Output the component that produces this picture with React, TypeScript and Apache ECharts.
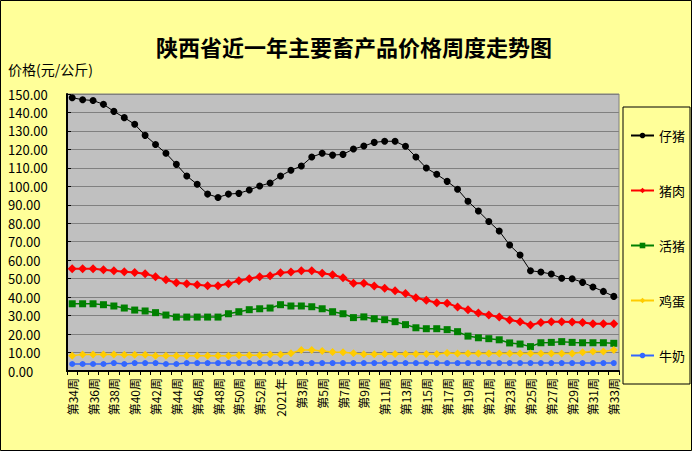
import React, { useEffect, useRef } from "react";
import * as echarts from "echarts";

const weeks: string[] = [
  "第34周", "第35周", "第36周", "第37周", "第38周", "第39周", "第40周", "第41周", "第42周", "第43周",
  "第44周", "第45周", "第46周", "第47周", "第48周", "第49周", "第50周", "第51周", "第52周", "第53周",
  "2021年", "第2周", "第3周", "第4周", "第5周", "第6周", "第7周", "第8周", "第9周", "第10周",
  "第11周", "第12周", "第13周", "第14周", "第15周", "第16周", "第17周", "第18周", "第19周", "第20周",
  "第21周", "第22周", "第23周", "第24周", "第25周", "第26周", "第27周", "第28周", "第29周", "第30周",
  "第31周", "第32周", "第33周",
];

const piglet: number[] = [
  148.0, 146.9, 146.5, 144.4, 140.6, 137.2, 133.6, 127.6, 122.7, 117.9,
  111.9, 105.6, 101.1, 95.8, 94.0, 95.8, 96.2, 98.0, 100.2, 101.8,
  105.6, 108.7, 111.0, 115.9, 117.9, 116.9, 117.3, 120.2, 121.8, 123.8,
  124.4, 124.4, 121.7, 115.9, 109.9, 106.5, 102.7, 98.4, 91.9, 86.6,
  81.0, 75.8, 68.2, 62.8, 54.3, 53.6, 52.5, 50.2, 50.0, 48.0,
  45.5, 43.1, 40.4,
];

const pork: number[] = [
  55.4, 55.4, 55.4, 54.8, 54.3, 53.8, 53.4, 52.7, 51.1, 49.4,
  47.8, 47.3, 46.7, 46.2, 46.2, 47.3, 48.9, 50.0, 51.1, 51.6,
  53.2, 53.6, 54.3, 54.3, 52.9, 52.1, 50.5, 47.5, 47.5, 46.0,
  44.8, 43.5, 41.9, 39.7, 38.3, 37.0, 36.7, 34.7, 33.2, 31.4,
  30.3, 29.2, 27.6, 26.7, 24.9, 26.2, 26.7, 26.7, 26.5, 26.2,
  25.6, 25.6, 25.6,
];

const liveHog: number[] = [
  36.4, 36.4, 36.4, 35.9, 35.2, 34.1, 33.0, 32.5, 31.6, 30.3,
  29.2, 29.2, 29.2, 29.2, 29.2, 31.0, 32.1, 33.2, 33.7, 34.1,
  35.9, 35.2, 35.2, 34.8, 33.7, 32.1, 31.0, 28.9, 29.3, 28.3,
  27.8, 26.7, 25.1, 23.4, 22.9, 22.9, 22.4, 21.3, 18.9, 18.0,
  17.5, 16.9, 15.2, 14.6, 13.2, 15.3, 15.5, 15.9, 15.5, 15.3,
  15.3, 15.3, 15.0,
];

const eggs: number[] = [
  8.3, 9.0, 9.0, 9.0, 9.0, 8.8, 8.8, 8.8, 8.3, 8.3,
  8.3, 8.3, 8.3, 8.3, 8.3, 8.3, 8.5, 8.5, 8.5, 9.0,
  9.0, 9.6, 11.4, 11.4, 10.8, 10.3, 10.1, 9.6, 9.1, 9.1,
  9.2, 9.2, 9.2, 9.2, 9.2, 9.2, 9.7, 9.5, 9.5, 9.5,
  9.5, 9.5, 9.5, 9.5, 9.5, 9.5, 9.5, 9.5, 9.5, 10.1,
  10.5, 10.6, 11.4,
];

const milk: number[] = [
  3.8, 3.8, 3.8, 3.8, 4.3, 3.8, 4.3, 4.3, 4.3, 3.8,
  3.8, 4.3, 4.3, 4.3, 4.3, 4.3, 4.3, 4.3, 4.3, 4.3,
  4.3, 4.3, 4.3, 4.3, 4.3, 4.3, 4.3, 4.3, 4.3, 4.3,
  4.3, 4.3, 4.3, 4.3, 4.3, 4.3, 4.3, 4.3, 4.3, 4.3,
  4.3, 4.3, 4.3, 4.3, 4.3, 4.3, 4.3, 4.3, 4.3, 4.3,
  4.3, 4.3, 4.3,
];

const seriesNames = ["仔猪", "猪肉", "活猪", "鸡蛋", "牛奶"];

const FONT = "'Noto Sans CJK SC', sans-serif";

export default function App() {
  const ref = useRef<HTMLDivElement>(null);

  useEffect(() => {
    document.body.style.margin = "0";
    if (!ref.current) return;
    const chart = echarts.init(ref.current, null, { renderer: "svg" });

    const mk = (
      name: string,
      data: number[],
      color: string,
      symbol: string,
      symbolSize: number,
      width: number
    ) => ({
      name,
      type: "line",
      data,
      symbol,
      symbolSize,
      showAllSymbol: true,
      lineStyle: { color, width },
      itemStyle: { color, borderWidth: 0 },
      emphasis: { disabled: true },
    });

    chart.setOption({
      animation: false,
      backgroundColor: "#FFFF99",
      title: {
        text: "陕西省近一年主要畜产品价格周度走势图",
        left: 151,
        top: 30,
        textStyle: { fontFamily: FONT, fontSize: 22, fontWeight: "bold", color: "#000" },
      },
      graphic: [
        {
          type: "rect",
          shape: { x: 0.5, y: 0.5, width: 691, height: 450 },
          style: { fill: "none", stroke: "#000", lineWidth: 1 },
          silent: true,
        },
        {
          type: "text",
          left: 8,
          top: 62,
          style: { text: "价格(元/公斤)", fontFamily: FONT, fontSize: 14, fill: "#000" },
        },
      ],
      legend: {
        orient: "vertical",
        left: 623,
        top: 107,
        padding: [22, 5, 22, 7],
        itemGap: 42,
        itemWidth: 23,
        itemHeight: 7,
        backgroundColor: "#FFFF99",
        borderColor: "#000",
        borderWidth: 1,
        borderRadius: 0,
        textStyle: { fontFamily: FONT, fontSize: 13, color: "#000" },
        data: seriesNames,
      },
      grid: {
        left: 67,
        top: 94,
        right: 73,
        bottom: 80,
        show: true,
        backgroundColor: "#C0C0C0",
        borderColor: "#808080",
        borderWidth: 1,
      },
      xAxis: {
        type: "category",
        data: weeks,
        boundaryGap: true,
        axisLine: { show: true, lineStyle: { color: "#000", width: 2 } },
        axisTick: { show: true, interval: 0, length: 4, lineStyle: { color: "#000" } },
        axisLabel: {
          interval: 1,
          rotate: 90,
          margin: 7,
          fontFamily: FONT,
          fontSize: 12,
          color: "#000",
        },
        splitLine: { show: false },
      },
      yAxis: {
        type: "value",
        min: 0,
        max: 150,
        interval: 10,
        axisLine: { show: true, lineStyle: { color: "#000", width: 2 } },
        axisTick: { show: true, inside: true, length: 4, lineStyle: { color: "#000" } },
        axisLabel: {
          align: "left",
          margin: 59,
          fontFamily: FONT,
          fontSize: 13,
          color: "#000",
          formatter: (v: number) => v.toFixed(2),
        },
        splitLine: { show: true, lineStyle: { color: "#808080", width: 1 } },
      },
      series: [
        mk("仔猪", piglet, "#000000", "circle", 7, 1),
        mk("猪肉", pork, "#FF0000", "diamond", 9, 2),
        mk("活猪", liveHog, "#008000", "rect", 7, 1.5),
        mk("鸡蛋", eggs, "#FFCC00", "diamond", 8, 1.5),
        mk("牛奶", milk, "#3366FF", "circle", 6, 1.5),
      ],
    });

    return () => chart.dispose();
  }, []);

  return (
    <div
      ref={ref}
      style={{ position: "absolute", left: 0, top: 0, width: 692, height: 451 }}
    />
  );
}
